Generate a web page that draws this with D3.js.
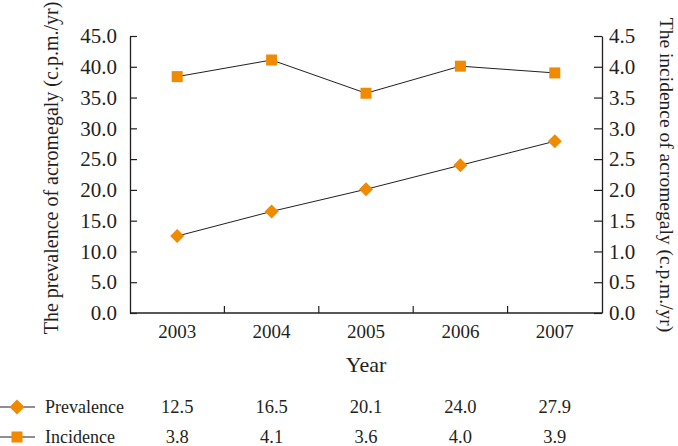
<!DOCTYPE html>
<html>
<head>
<meta charset="utf-8">
<script src="https://cdn.jsdelivr.net/npm/d3@7"></script>
<style>
  body { margin: 0; background: #fff; }
  text { font-family: "Liberation Serif", "Times New Roman", serif; fill: #231f20; }
</style>
</head>
<body>
<div class="inner-content"></div>
<script>
var years = ["2003", "2004", "2005", "2006", "2007"];
var prevalence = [12.5, 16.5, 20.1, 24.0, 27.9];
var incidence = [3.84, 4.11, 3.57, 4.01, 3.9];
var leftTicks = [0, 5, 10, 15, 20, 25, 30, 35, 40, 45];
var rightTicks = [0, 0.5, 1, 1.5, 2, 2.5, 3, 3.5, 4, 4.5];

var orange = "#F08A00";
var ink = "#231f20";

var svg = d3.select(".inner-content")
  .append("svg")
    .attr("width", 678)
    .attr("height", 446);

var x = d3.scaleBand()
  .domain(years)
  .range([130, 602]);

var yL = d3.scaleLinear().domain([0, 45]).range([313, 36]);
var yR = d3.scaleLinear().domain([0, 4.5]).range([313, 36]);

// left axis
var gL = svg.append("g").attr("transform", "translate(130,0)");
gL.call(d3.axisLeft(yL).tickValues(leftTicks).tickSizeInner(-7).tickSizeOuter(0).tickPadding(13).tickFormat(d3.format(".1f")));
// right axis
var gR = svg.append("g").attr("transform", "translate(602,0)");
gR.call(d3.axisRight(yR).tickValues(rightTicks).tickSizeInner(-8).tickSizeOuter(0).tickPadding(7).tickFormat(d3.format(".1f")));

[gL, gR].forEach(function(g) {
  g.attr("font-family", null);
  g.select(".domain").attr("stroke", ink).attr("stroke-width", 1.3);
  g.selectAll(".tick line").attr("stroke", ink).attr("stroke-width", 1.2);
  g.selectAll(".tick text").style("font-size", "21px").attr("fill", ink)
    .style("font-family", '"Liberation Serif", serif');
});

// x axis
svg.append("line")
  .attr("x1", 130).attr("x2", 602)
  .attr("y1", 313).attr("y2", 313)
  .attr("stroke", ink).attr("stroke-width", 1.4);

svg.selectAll(".xtick")
  .data(years.slice(1))
  .enter()
  .append("line")
    .attr("x1", d => x(d)).attr("x2", d => x(d))
    .attr("y1", 313).attr("y2", 306)
    .attr("stroke", ink).attr("stroke-width", 1.2);

svg.selectAll(".xlab")
  .data(years)
  .enter()
  .append("text")
    .attr("x", d => x(d) + x.bandwidth() / 2)
    .attr("y", 338)
    .attr("text-anchor", "middle")
    .style("font-size", "19px")
    .text(d => d);

svg.append("text")
  .attr("x", 366).attr("y", 372)
  .attr("text-anchor", "middle")
  .style("font-size", "22px")
  .text("Year");

svg.append("text")
  .attr("transform", "translate(58,168) rotate(-90)")
  .attr("text-anchor", "middle")
  .style("font-size", "20px")
  .text("The prevalence of acromegaly (c.p.m./yr)");

svg.append("text")
  .attr("transform", "translate(660,175) rotate(90)")
  .attr("text-anchor", "middle")
  .style("font-size", "19.5px")
  .text("The incidence of acromegaly (c.p.m./yr)");

var cx = d => x(d) + x.bandwidth() / 2;

var lineL = d3.line().x((d, i) => cx(years[i])).y(d => yL(d));
var lineR = d3.line().x((d, i) => cx(years[i])).y(d => yR(d));

svg.append("path").attr("d", lineL(prevalence)).attr("fill", "none").attr("stroke", ink).attr("stroke-width", 1);
svg.append("path").attr("d", lineR(incidence)).attr("fill", "none").attr("stroke", ink).attr("stroke-width", 1);

var diamond = "M0,-7L7,0L0,7L-7,0Z";

svg.selectAll(".prev")
  .data(prevalence)
  .enter()
  .append("path")
    .attr("d", diamond)
    .attr("transform", (d, i) => "translate(" + cx(years[i]) + "," + yL(d) + ")")
    .attr("fill", orange);

svg.selectAll(".inc")
  .data(incidence)
  .enter()
  .append("rect")
    .attr("x", (d, i) => cx(years[i]) - 5.5)
    .attr("y", d => yR(d) - 5.5)
    .attr("width", 11).attr("height", 11)
    .attr("fill", orange);

// data table legend
var rows = [
  { name: "Prevalence", values: prevalence, y: 407, marker: "diamond" },
  { name: "Incidence", values: incidence, y: 437, marker: "square" }
];

rows.forEach(function(r) {
  svg.append("line")
    .attr("x1", 0).attr("x2", 35)
    .attr("y1", r.y).attr("y2", r.y)
    .attr("stroke", ink).attr("stroke-width", 1);
  if (r.marker == "diamond") {
    svg.append("path").attr("d", "M0,-7.5L7.5,0L0,7.5L-7.5,0Z")
      .attr("transform", "translate(17," + r.y + ")").attr("fill", orange);
  } else {
    svg.append("rect").attr("x", 11.5).attr("y", r.y - 5.5).attr("width", 11).attr("height", 11).attr("fill", orange);
  }
  svg.append("text")
    .attr("x", 45).attr("y", r.y + 6)
    .style("font-size", "18px")
    .text(r.name);
  svg.selectAll(null)
    .data(r.values)
    .enter()
    .append("text")
      .attr("x", (d, i) => cx(years[i]))
      .attr("y", r.y + 6)
      .attr("text-anchor", "middle")
      .style("font-size", "18.5px")
      .text(d => d.toFixed(1));
});
</script>
</body>
</html>
